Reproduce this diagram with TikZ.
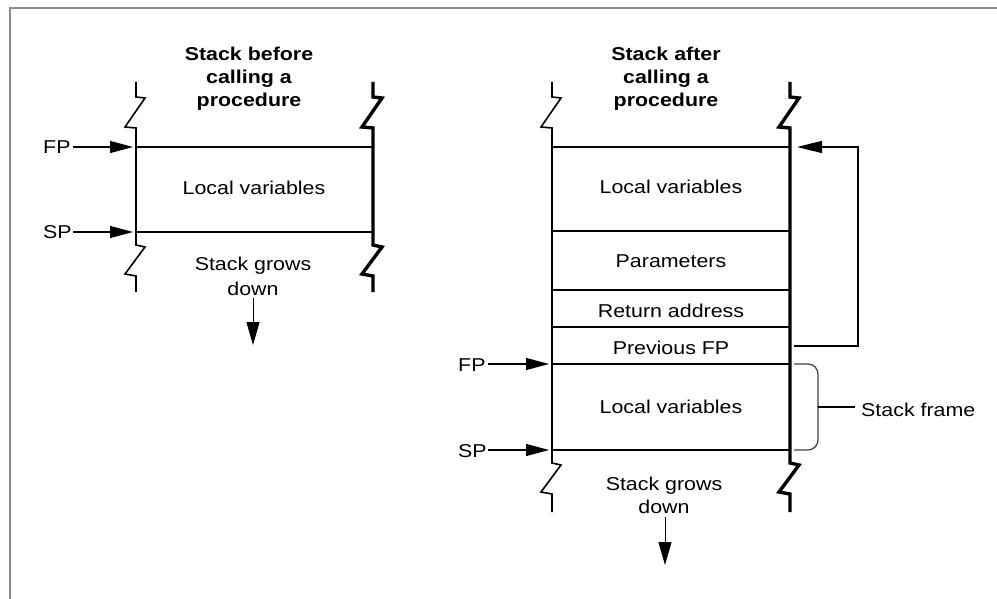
\documentclass[tikz,border=0pt]{standalone}
\usepackage{fontspec}
\setmainfont{Liberation Sans}[FakeStretch=1.15]
\usetikzlibrary{arrows.meta}

\begin{document}
\begin{tikzpicture}[x=1pt,y=-1pt,
  framecol/.style={draw=black!45,line width=1.5pt},
  wallthin/.style={line width=1.6pt,line join=miter},
  wallthick/.style={line width=3.4pt,line join=miter},
  cellline/.style={line width=1.3pt},
  ptr/.style={line width=1.2pt,-{Triangle[length=23pt,width=12pt]}},
  txt/.style={font=\fontsize{18.6}{22}\selectfont,inner sep=0pt,anchor=base},
  ttl/.style={font=\bfseries\fontsize{18.6}{22}\selectfont,inner sep=0pt,anchor=base},
  bracket/.style={draw=black!75,line width=1.2pt,rounded corners=10pt}]

\useasboundingbox (0,0) rectangle (997,599);

% outer frame (top and left edges)
\draw[framecol] (10,599) -- (10,8) -- (997,8);

% ---------------- stack before the call ----------------
\node[ttl] (tb1) at (249,61) {Stack before};
\node[ttl] (tb2) at (249,84) {calling a};
\node[ttl] (tb3) at (249,107) {procedure};

\draw[wallthin] (136,82) -- (136,97) -- ++(9,1) -- ++(-20,29) -- ++(11,1)
  -- (136,245) -- ++(9,2) -- ++(-20,27) -- ++(11,2) -- (136,292);
\draw[wallthick] (373,82) -- (373,97) -- ++(9,1) -- ++(-20,29) -- ++(11,1)
  -- (373,245) -- ++(9,2) -- ++(-20,27) -- ++(11,2) -- (373,292);

\coordinate (Lfpl) at (136,147); \coordinate (Lfpr) at (373,147);
\coordinate (Lspl) at (136,232); \coordinate (Lspr) at (373,232);
\draw[cellline] (Lfpl) -- (Lfpr);
\draw[cellline] (Lspl) -- (Lspr);

\node[txt] (Llocal) at (254,195) {Local variables};

\node[txt,anchor=base west] (Lfp) at (43,154) {FP};
\node[txt,anchor=base west] (Lsp) at (43,239) {SP};
\draw[ptr] (73,147) -- (133,147);
\draw[ptr] (73,232) -- (133,232);

\node[txt] (Lgrow) at (253,270) {Stack grows};
\node[txt] (Ldown) at (253,295) {down};
\coordinate (Larr0) at (253,298);
\coordinate (Larr1) at (253,345);
\draw[ptr,line width=1pt,-{Triangle[length=23pt,width=13pt]}] (Larr0) -- (Larr1);

% ---------------- stack after the call ----------------
\node[ttl] (ta1) at (666,61) {Stack after};
\node[ttl] (ta2) at (666,84) {calling a};
\node[ttl] (ta3) at (666,107) {procedure};

\draw[wallthin] (552,82) -- (552,97) -- ++(9,1) -- ++(-20,29) -- ++(11,1)
  -- (552,463) -- ++(9,2) -- ++(-20,27) -- ++(11,2) -- (552,512);
\draw[wallthick] (790,82) -- (790,97) -- ++(9,1) -- ++(-20,29) -- ++(11,1)
  -- (790,463) -- ++(9,2) -- ++(-20,27) -- ++(11,2) -- (790,512);

\foreach \yy/\nm in {147/a,231/b,290/c,327/d,364/e,450/f}{
  \coordinate (R\nm l) at (552,\yy);
  \coordinate (R\nm r) at (790,\yy);
  \draw[cellline] (R\nm l) -- (R\nm r);
}

\node[txt] (Rlocal1) at (671,194) {Local variables};
\node[txt] (Rparam) at (671,267) {Parameters};
\node[txt] (Rret) at (671,317) {Return address};
\node[txt] (Rprev) at (671,354) {Previous FP};
\node[txt] (Rlocal2) at (671,413) {Local variables};

\node[txt,anchor=base west] (Rfp) at (458,371) {FP};
\node[txt,anchor=base west] (Rsp) at (458,457) {SP};
\draw[ptr] (488,364) -- (549,364);
\draw[ptr] (488,450) -- (549,450);

\node[txt] (Rgrow) at (664,490) {Stack grows};
\node[txt] (Rdown) at (664,513) {down};
\coordinate (Rarr0) at (665,517);
\coordinate (Rarr1) at (665,565);
\draw[ptr,line width=1pt,-{Triangle[length=23pt,width=13pt]}] (Rarr0) -- (Rarr1);

% link from the saved frame pointer back to the previous frame
\coordinate (link0) at (794,346);
\coordinate (link1) at (858,346);
\coordinate (link2) at (858,147);
\coordinate (link3) at (797,147);
\draw[line width=1.2pt,-{Triangle[length=25pt,width=12pt]}]
  (link0) -- (link1) -- (link2) -- (link3);

% bracket marking the current stack frame
\draw[bracket] (794,364) -- (818,364) -- (818,450) -- (794,450);
\coordinate (brmid) at (818,407);
\node[txt,anchor=base west] (frame) at (861,416) {Stack frame};
\draw[line width=1.2pt] (brmid) -- (855,407);

\end{tikzpicture}
\end{document}
